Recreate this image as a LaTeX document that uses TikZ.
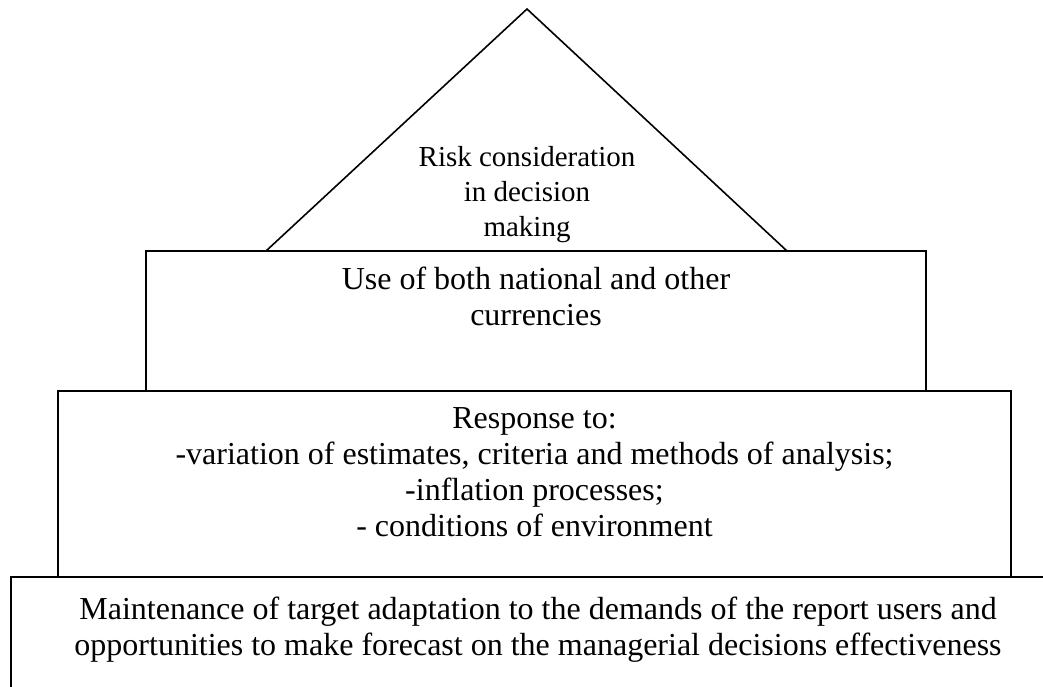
\documentclass[tikz,border=0pt]{standalone}
\usepackage{fontspec}
\setmainfont{Liberation Serif}
\usetikzlibrary{positioning}
\tikzset{
  tier/.style={draw, line width=1.6pt, inner sep=0pt, outer sep=0pt,
    anchor=north west},
  roofline/.style={line width=1.6pt, line join=miter},
  tiertext/.style={align=center, inner sep=0pt,
    font=\fontsize{32}{36}\selectfont},
  rooftext/.style={align=center, inner sep=0pt, anchor=north,
    font=\fontsize{29}{35}\selectfont}
}

\begin{document}
\begin{tikzpicture}[x=1pt, y=-1pt]
  \clip (0,0) rectangle (1043,686);

  % Roof
  \coordinate (apex) at (527,9);
  \coordinate (roofL) at (266,251);
  \coordinate (roofR) at (787,251);
  \draw[roofline] (roofL) -- (apex) -- (roofR);
  \node[rooftext] (risk) at (527,146) {Risk consideration\\in decision\\making};

  % Tiers, top to bottom
  \node[tier, minimum width=780pt, minimum height=140pt] (currency) at (146,251) {};
  \node[tier, minimum width=953pt, minimum height=186pt] (response) at (58,391) {};
  \node[tier, minimum width=1060pt, minimum height=140pt] (target) at (11,577) {};

  % Tier texts
  \node[tiertext, below=16pt of currency.north] (currencytext)
    {Use of both national and other\\currencies};
  \node[tiertext, below=16pt of response.north] (responsetext)
    {Response to:\\-variation of estimates, criteria and methods of analysis;\\-inflation processes;\\- conditions of environment};
  \node[tiertext, below=20pt of target.north, xshift=-3pt] (targettext)
    {Maintenance of target adaptation to the demands of the report users and\\opportunities to make forecast on the managerial decisions effectiveness};
\end{tikzpicture}
\end{document}
